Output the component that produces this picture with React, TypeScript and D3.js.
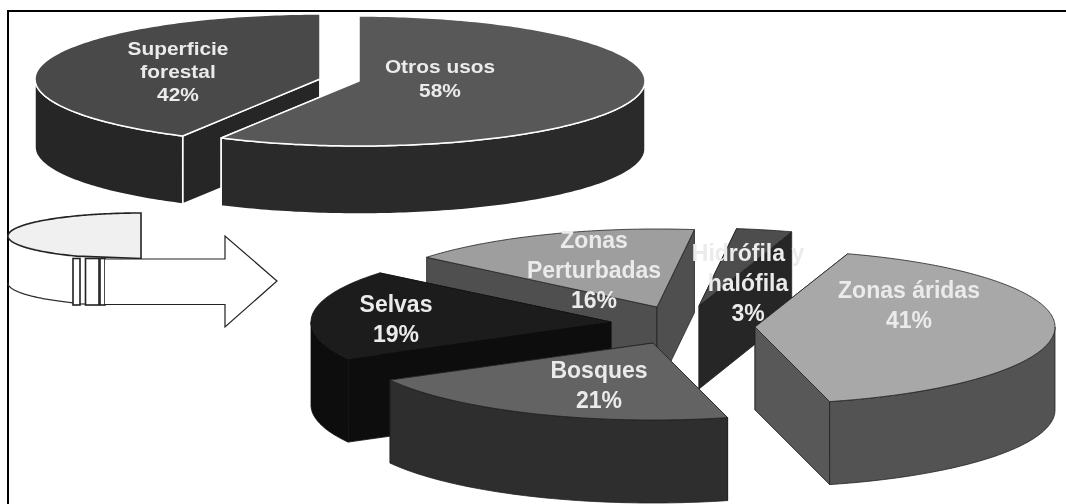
import React from "react";
import * as d3 from "d3";

// ---- data ----
const forestCategories = ["Otros usos", "Superficie forestal"];
const forestValues = [58, 42];
const landCategories = ["Zonas áridas", "Bosques", "Selvas", "Zonas Perturbadas", "Hidrófila y halófila"];
const landValues = [41, 21, 19, 16, 3];

// ---- layout & style ----
const W = 1066;
const H = 504;
const DEG = Math.PI / 180;
const forestPie = d3.pie<number>().sort(null).startAngle(0).endAngle(2 * Math.PI).value((d) => d);
const landPie = d3.pie<number>().sort(null).startAngle(18 * DEG).endAngle(378 * DEG).value((d) => d);

type Geo = { cx: number; cy: number; rx: number; ry: number; depth: number };
type Look = { top: string; wall: string; radial: string; stroke: string; sw: number };

const forestGeo: Geo[] = [
  { cx: 359, cy: 81, rx: 286, ry: 65, depth: 68 },
  { cx: 320, cy: 79, rx: 285, ry: 65, depth: 68 },
];
const forestLook: Look[] = [
  { top: "#585858", wall: "#2b2b2b", radial: "#2b2b2b", stroke: "#fff", sw: 1.5 },
  { top: "#4a4a4a", wall: "#262626", radial: "#262626", stroke: "#fff", sw: 1.5 },
];
const landGeo: Geo[] = [
  { cx: 755, cy: 327, rx: 300, ry: 77, depth: 83 },
  { cx: 653, cy: 343, rx: 300, ry: 77, depth: 83 },
  { cx: 611, cy: 322, rx: 300, ry: 77, depth: 83 },
  { cx: 657, cy: 307, rx: 299, ry: 78, depth: 83 },
  { cx: 699, cy: 306, rx: 300, ry: 78, depth: 83 },
];
const landLook: Look[] = [
  { top: "#a8a8a8", wall: "#525252", radial: "#585858", stroke: "#222", sw: 0.8 },
  { top: "#636363", wall: "#2e2e2e", radial: "#2e2e2e", stroke: "#222", sw: 0.8 },
  { top: "#1d1d1d", wall: "#0e0e0e", radial: "#0c0c0c", stroke: "#111", sw: 0.8 },
  { top: "#9e9e9e", wall: "#505050", radial: "#505050", stroke: "#222", sw: 0.8 },
  { top: "#4e4e4e", wall: "#262626", radial: "#262626", stroke: "#222", sw: 0.8 },
];
const landOrder = [3, 4, 2, 1, 0];

type Label = { lines: string[]; x: number; y: number; size: number; step: number; sx: number };
const labels: Label[] = [
  { lines: ["Superficie", "forestal", "42%"], x: 178, y: 55, size: 18.5, step: 23, sx: 1.13 },
  { lines: ["Otros usos", "58%"], x: 440, y: 73, size: 18.5, step: 24, sx: 1.13 },
  { lines: ["Zonas áridas", "41%"], x: 909, y: 298, size: 23, step: 30, sx: 1 },
  { lines: ["Hidrófila y", "halófila", "3%"], x: 748, y: 261, size: 23, step: 30, sx: 1 },
  { lines: ["Zonas", "Perturbadas", "16%"], x: 594, y: 248, size: 23, step: 30, sx: 1 },
  { lines: ["Bosques", "21%"], x: 599, y: 378, size: 23, step: 30, sx: 1 },
  { lines: ["Selvas", "19%"], x: 396, y: 312, size: 23, step: 30, sx: 1 },
];

// ---- geometry helpers ----
const line = d3.line<[number, number]>();
const pt = (g: Geo, t: number, dz = 0): [number, number] => [
  g.cx + g.rx * Math.sin(t),
  g.cy - g.ry * Math.cos(t) + dz,
];
const arcPts = (g: Geo, a: number, b: number, dz = 0): [number, number][] => {
  const n = Math.max(2, Math.ceil(Math.abs(b - a) / (1 * DEG)));
  return d3.range(n + 1).map((i) => pt(g, a + ((b - a) * i) / n, dz));
};
const closed = (p: [number, number][]) => line(p) + "Z";

function Slice({ g, look, a, b }: { g: Geo; look: Look; a: number; b: number }) {
  const centre: [number, number] = [g.cx, g.cy];
  const below: [number, number] = [g.cx, g.cy + g.depth];
  const radial = (t: number) => closed([centre, pt(g, t), pt(g, t, g.depth), below]);
  const walls: string[] = [];
  for (const shift of [0, 2 * Math.PI]) {
    const lo = Math.max(a, 90 * DEG + shift);
    const hi = Math.min(b, 270 * DEG + shift);
    if (hi > lo) walls.push(closed([...arcPts(g, lo, hi), ...arcPts(g, hi, lo, g.depth)]));
  }
  const props = { stroke: look.stroke, strokeWidth: look.sw, strokeLinejoin: "round" as const };
  return (
    <g>
      <path d={radial(a)} fill={look.radial} {...props} />
      <path d={radial(b)} fill={look.radial} {...props} />
      {walls.map((d, i) => (
        <path key={i} d={d} fill={look.wall} {...props} />
      ))}
      <path d={closed([centre, ...arcPts(g, a, b)])} fill={look.top} {...props} />
    </g>
  );
}

// miniature of the "Superficie forestal" wedge that feeds the arrow
const iconGeo: Geo = { cx: 141, cy: 236, rx: 133, ry: 23, depth: 47 };
const iconStrips = [
  [73, 80],
  [85.5, 99],
  [100, 105],
];

export default function App() {
  const forestArcs = forestPie(forestValues);
  const landArcs = landPie(landValues);
  const forestSliceA = forestArcs[1];
  const iconTop = arcPts(iconGeo, 2 * Math.PI, forestSliceA.startAngle);
  const iconLow = arcPts(iconGeo, 270 * DEG, forestSliceA.startAngle, iconGeo.depth);
  return (
    <svg
      width={W}
      height={H}
      viewBox={`0 0 ${W} ${H}`}
      style={{ position: "absolute", left: 0, top: 0, display: "block", background: "#fff" }}
    >
      <defs>
        <filter id="soft" x="0" y="0" width="100%" height="100%">
          <feGaussianBlur stdDeviation="0.45" />
        </filter>
      </defs>
      <g filter="url(#soft)">
        {/* frame: top and left rules only */}
        <path d={`M7.5 ${H}V10.5H${W}`} fill="none" stroke="#000" strokeWidth={3} />

        {/* upper pie */}
        {[1, 0].map((i) => (
          <Slice key={forestCategories[i]} g={forestGeo[i]} look={forestLook[i]} a={forestArcs[i].startAngle} b={forestArcs[i].endAngle} />
        ))}

        {/* lower exploded pie */}
        {landOrder.map((i) => (
          <Slice key={landCategories[i]} g={landGeo[i]} look={landLook[i]} a={landArcs[i].startAngle} b={landArcs[i].endAngle} />
        ))}

        {/* icon + arrow */}
        <path d={line(iconLow) ?? ""} fill="none" stroke="#333" strokeWidth={1.3} />
        <path
          d={`${line(iconTop)}L141 258.5Z`}
          fill="#f0f0f0"
          stroke="#222"
          strokeWidth={1.6}
        />
        <path d="M80 304H105" stroke="#333" strokeWidth={1.2} />
        {iconStrips.map(([x0, x1]) => (
          <rect key={x0} x={x0} y={258.5} width={x1 - x0} height={46.5} fill="#fff" stroke="#222" strokeWidth={1.6} />
        ))}
        <path
          d="M105 259H225V236L277 281L225 327V304.5H105"
          fill="#fff"
          stroke="#222"
          strokeWidth={1.2}
        />

        {/* labels */}
        {labels.map((l) => (
          <text
            key={l.lines[0]}
            transform={`translate(${l.x},0) scale(${l.sx},1)`}
            textAnchor="middle"
            fontFamily="'Liberation Sans', Arial, sans-serif"
            fontWeight={700}
            fontSize={l.size}
            fill="#ebebeb"
          >
            {l.lines.map((s, i) => (
              <tspan key={s} x={0} y={l.y + i * l.step}>
                {s}
              </tspan>
            ))}
          </text>
        ))}
      </g>
    </svg>
  );
}
